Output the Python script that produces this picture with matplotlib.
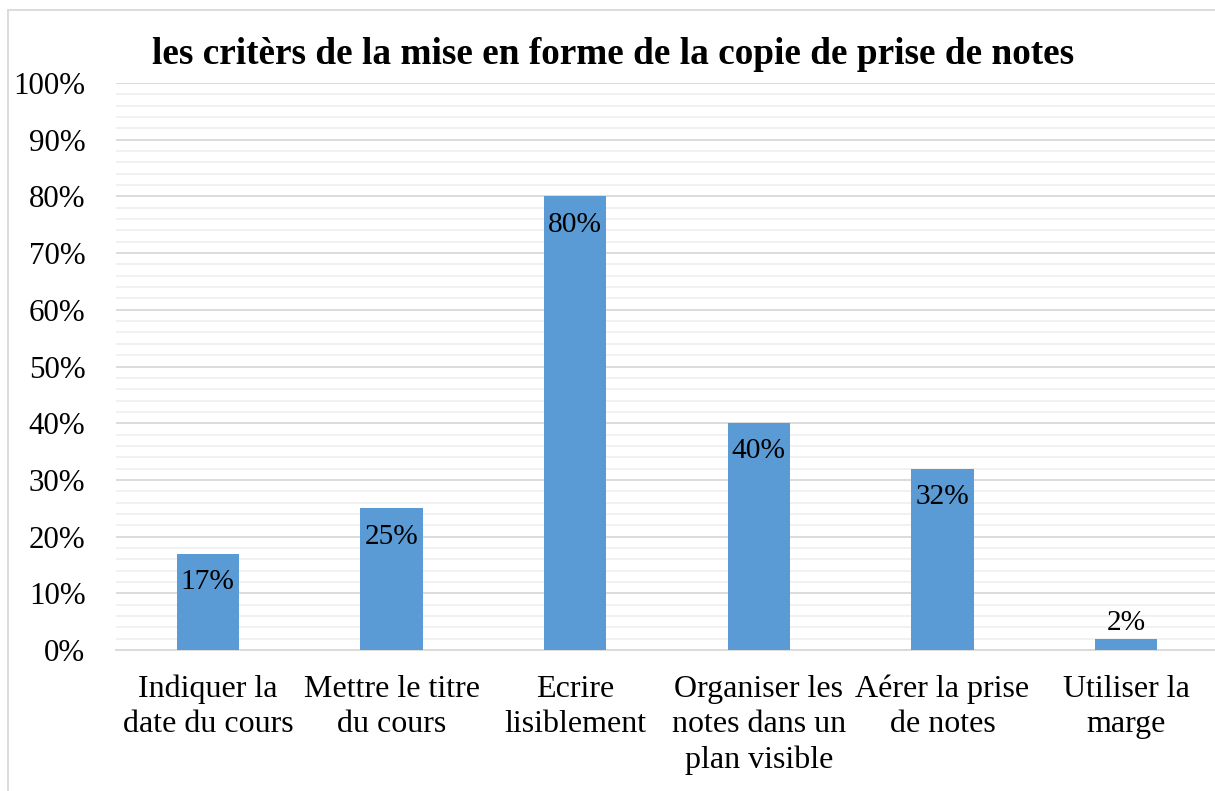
import matplotlib
matplotlib.use("Agg")
import matplotlib.pyplot as plt
from matplotlib.ticker import MultipleLocator, FuncFormatter
from matplotlib.lines import Line2D

categories = ["Indiquer la\ndate du cours", "Mettre le titre\ndu cours", "Ecrire\nlisiblement",
              "Organiser les\nnotes dans un\nplan visible", "Aérer la prise\nde notes", "Utiliser la\nmarge"]
values = [17, 25, 80, 40, 32, 2]
title = "les critèrs de la mise en forme de la copie de prise de notes"

plt.rcParams['font.family'] = ['Liberation Serif', 'DejaVu Serif']

fig = plt.figure(figsize=(12.15, 7.91), dpi=100)
ax = fig.add_axes([116/1215, 141/791, 1102/1215, 567/791])

x = list(range(len(categories)))
bars = ax.bar(x, values, width=0.34, color='#5B9BD5', zorder=3)
ax.set_xlim(-0.5, len(categories) - 0.5)
ax.set_ylim(0, 100)

ax.yaxis.set_major_locator(MultipleLocator(10))
ax.yaxis.set_minor_locator(MultipleLocator(2))
ax.yaxis.set_major_formatter(FuncFormatter(lambda v, p: f"{int(v)}%"))
ax.grid(axis='y', which='major', color='#d9d9d9', linewidth=1.3, zorder=0)
ax.grid(axis='y', which='minor', color='#f0f0f0', linewidth=1.3, zorder=0)
ax.set_axisbelow(True)

for s in ['top', 'right', 'left']:
    ax.spines[s].set_visible(False)
ax.spines['bottom'].set_color('#d9d9d9')
ax.spines['bottom'].set_linewidth(1.3)

ax.set_xticks(x)
ax.set_xticklabels(categories, fontsize=23, linespacing=1.27, va='top')
ax.tick_params(axis='x', length=0, pad=18)
ax.tick_params(axis='y', which='both', length=0, pad=22, labelsize=22.3)

for xi, v in zip(x, values):
    if v >= 10:
        ax.annotate(f"{v}%", (xi, v), xytext=(0, -11), textcoords='offset points',
                    ha='center', va='top', fontsize=21.2, zorder=4)
    else:
        ax.annotate(f"{v}%", (xi, v), xytext=(0, 2), textcoords='offset points',
                    ha='center', va='bottom', fontsize=21.2, zorder=4)

fig.text(613/1215, 1 - 54/791, title, ha='center', va='center', fontsize=26.8, fontweight='bold')

fig.add_artist(Line2D([8/1215, 8/1215], [0, 1 - 10/791], transform=fig.transFigure, color='#d9d9d9', lw=1.3))
fig.add_artist(Line2D([8/1215, 1], [1 - 10/791, 1 - 10/791], transform=fig.transFigure, color='#d9d9d9', lw=1.3))

fig.savefig("out.png", dpi=100)
